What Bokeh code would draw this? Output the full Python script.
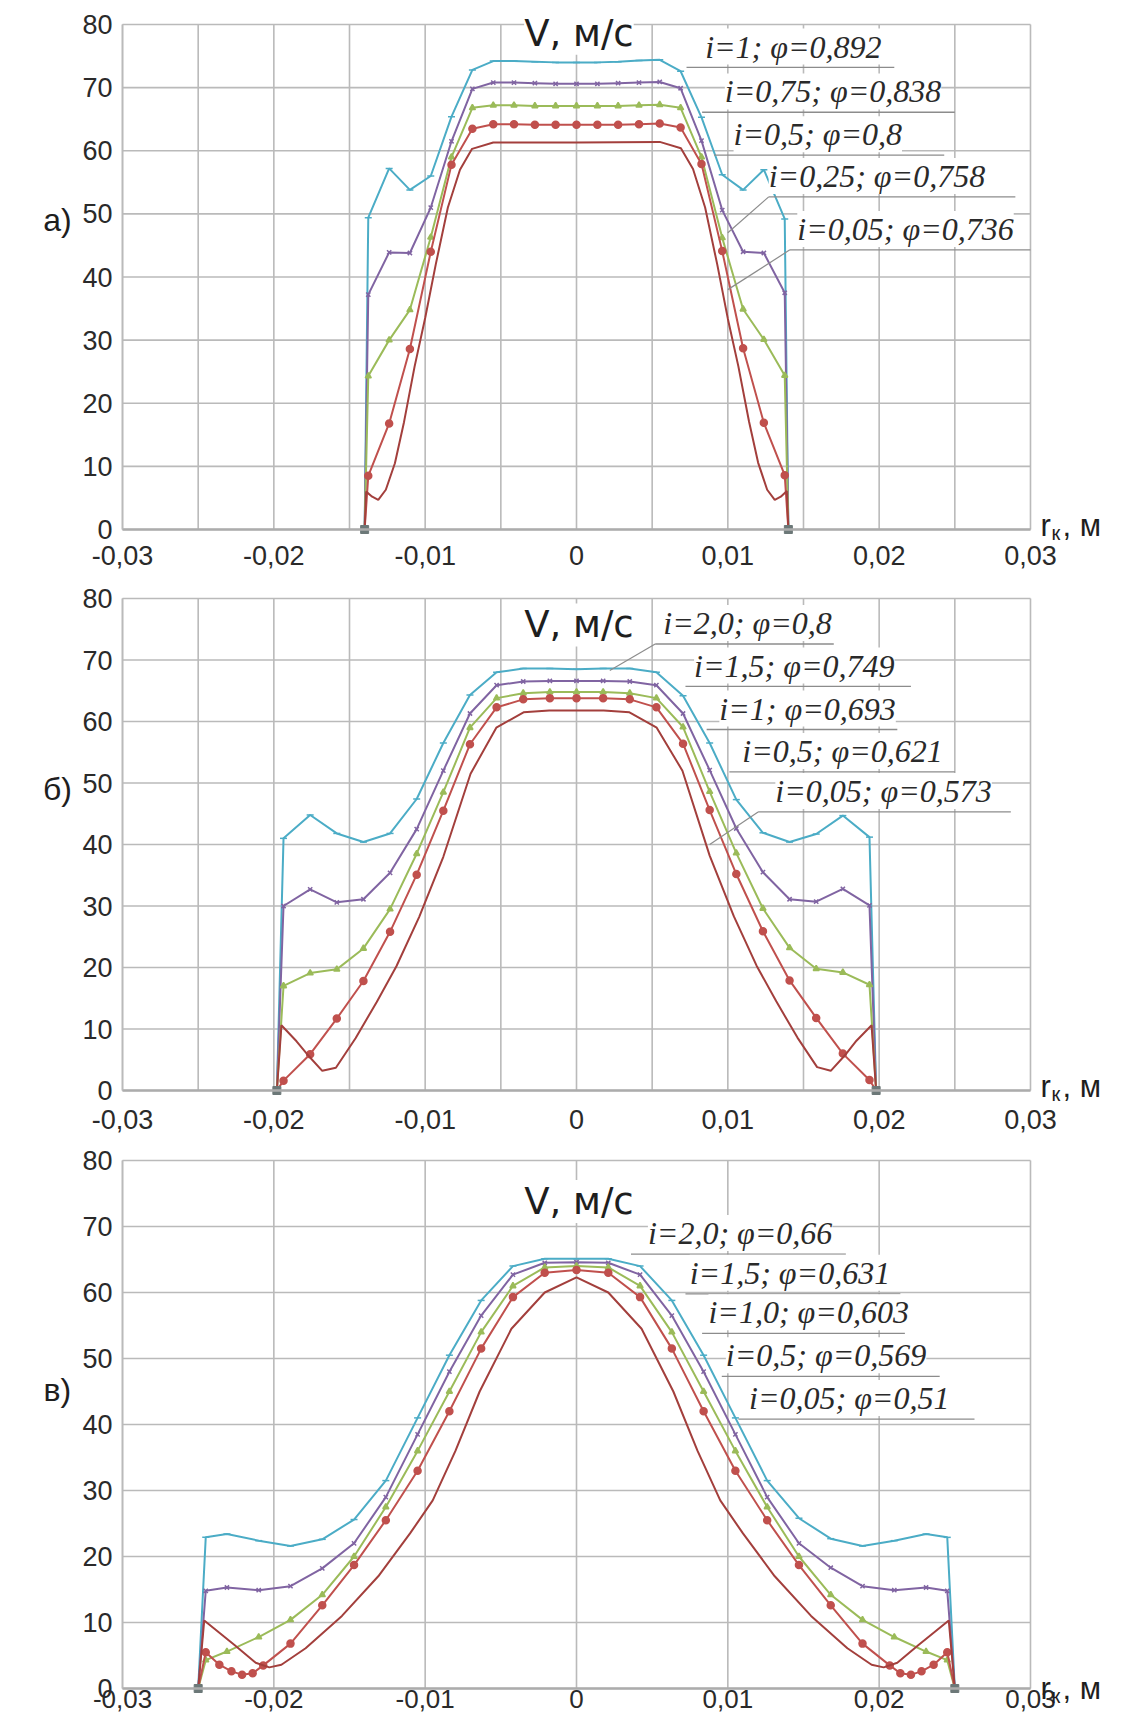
from bokeh.plotting import figure
from bokeh.models import Range1d, FixedTicker, Label
from bokeh.layouts import column
from bokeh.embed import file_html
from bokeh.resources import INLINE

# ---------------- shared axis data ----------------
X_TICKS = [-0.03, -0.02, -0.01, 0.0, 0.01, 0.02, 0.03]
X_TICK_LABELS = ["-0,03", "-0,02", "-0,01", "0", "0,01", "0,02", "0,03"]
Y_TICKS = [0, 10, 20, 30, 40, 50, 60, 70, 80]
GRID_X_FINE = [-0.03, -0.025, -0.02, -0.015, -0.01, -0.005, 0.0, 0.005, 0.01, 0.015, 0.02, 0.025, 0.03]
GRID_X_COARSE = [-0.03, -0.02, -0.01, 0.0, 0.01, 0.02, 0.03]
X_MIN, X_MAX, Y_MIN, Y_MAX = -0.03, 0.03, 0, 80
PANEL_LETTERS = ["а)", "б)", "в)"]
Y_TITLE = "V, м/с"
X_TITLE_MAIN = "r"
X_TITLE_SUB = "к"
X_TITLE_UNIT = ", м"

# ---------------- panel a ----------------
A_X = [-0.0140, -0.01376, -0.01238, -0.01101, -0.00963, -0.00826, -0.00688, -0.00550, -0.00413,
       -0.00275, -0.00138, 0.0, 0.00138, 0.00275, 0.00413, 0.00550, 0.00688, 0.00826, 0.00963,
       0.01101, 0.01238, 0.01376, 0.0140]
A_CYAN = [0.0, 49.4, 57.2, 53.8, 56.0, 65.4, 72.8, 74.2, 74.2, 74.1, 74.0, 74.0, 74.0, 74.1, 74.3,
          74.4, 72.6, 65.3, 56.2, 53.8, 57.0, 49.2, 0.0]
A_PURPLE = [0.0, 37.2, 43.9, 43.8, 51.0, 61.5, 69.8, 70.8, 70.8, 70.7, 70.6, 70.6, 70.6, 70.7, 70.8,
            70.9, 69.9, 61.6, 50.6, 44.0, 43.8, 37.5, 0.0]
A_GREEN = [0.0, 24.3, 30.0, 34.8, 46.3, 59.0, 66.8, 67.2, 67.2, 67.1, 67.1, 67.1, 67.1, 67.1, 67.2,
           67.3, 66.8, 59.0, 46.2, 34.9, 30.1, 24.4, 0.0]
A_RED = [0.0, 8.5, 16.8, 28.6, 44.0, 57.8, 63.5, 64.2, 64.2, 64.1, 64.1, 64.1, 64.1, 64.1, 64.2,
         64.3, 63.7, 57.9, 44.1, 28.7, 16.9, 8.6, 0.0]
A_DR_X = [-0.0140, -0.0139, -0.0135, -0.0131, -0.0126, -0.0120, -0.0114, -0.0107, -0.0100, -0.0093,
          -0.0085, -0.0077, -0.0069, -0.0055, 0.0, 0.0055, 0.0069, 0.0077, 0.0085, 0.0093, 0.0100,
          0.0107, 0.0114, 0.0120, 0.0126, 0.0131, 0.0135, 0.0139, 0.0140]
A_DR = [0.0, 6.0, 5.2, 4.7, 6.3, 10.5, 17.0, 25.8, 33.5, 42.0, 51.0, 57.0, 60.3, 61.3, 61.3, 61.4,
        60.4, 57.1, 51.0, 42.0, 33.4, 25.8, 17.1, 10.6, 6.3, 4.7, 5.2, 6.1, 0.0]
A_LABELS = ["i=1; φ=0,892", "i=0,75; φ=0,838", "i=0,5; φ=0,8", "i=0,25; φ=0,758", "i=0,05; φ=0,736"]

# ---------------- panel b ----------------
B_X = [-0.0198, -0.01936, -0.0176, -0.01584, -0.01408, -0.01232, -0.01056, -0.0088, -0.00704,
       -0.00528, -0.00352, -0.00176, 0.0, 0.00176, 0.00352, 0.00528, 0.00704, 0.0088, 0.01056,
       0.01232, 0.01408, 0.01584, 0.0176, 0.01936, 0.0198]
B_CYAN = [0.0, 41.0, 44.8, 41.8, 40.4, 41.8, 47.4, 56.5, 64.3, 68.0, 68.6, 68.6, 68.5, 68.6, 68.6,
          68.0, 64.2, 56.5, 47.3, 41.9, 40.4, 41.7, 44.7, 41.2, 0.0]
B_PURPLE = [0.0, 30.0, 32.7, 30.6, 31.1, 35.4, 42.5, 52.0, 61.3, 65.9, 66.5, 66.6, 66.6, 66.6, 66.5,
            65.9, 61.3, 52.1, 42.6, 35.5, 31.1, 30.7, 32.8, 30.1, 0.0]
B_GREEN = [0.0, 17.0, 19.1, 19.7, 23.1, 29.5, 38.5, 48.5, 59.0, 63.8, 64.6, 64.8, 64.8, 64.8, 64.6,
           63.8, 59.1, 48.6, 38.6, 29.6, 23.2, 19.8, 19.2, 17.2, 0.0]
B_RED = [0.0, 1.6, 5.9, 11.7, 17.8, 25.8, 35.1, 45.5, 56.3, 62.3, 63.6, 63.8, 63.8, 63.8, 63.6,
         62.3, 56.4, 45.6, 35.2, 25.9, 17.9, 11.8, 6.0, 1.7, 0.0]
B_DR_X = [-0.0198, -0.0195, -0.0185, -0.0178, -0.0168, -0.0159, -0.0146, -0.0132, -0.0119, -0.0104,
          -0.0088, -0.0070, -0.0053, -0.0035, -0.0018, 0.0, 0.0018, 0.0035, 0.0053, 0.0070, 0.0088,
          0.0104, 0.0119, 0.0132, 0.0146, 0.0159, 0.0168, 0.0178, 0.0185, 0.0195, 0.0198]
B_DR = [0.0, 10.6, 8.0, 5.9, 3.2, 3.7, 8.5, 14.4, 20.2, 28.2, 38.0, 51.5, 59.0, 61.5, 61.8, 61.8,
        61.8, 61.5, 59.0, 52.0, 38.2, 28.3, 20.3, 14.5, 8.6, 3.8, 3.2, 5.9, 8.1, 10.6, 0.0]
B_LABELS = ["i=2,0; φ=0,8", "i=1,5; φ=0,749", "i=1; φ=0,693", "i=0,5; φ=0,621", "i=0,05; φ=0,573"]

# ---------------- panel c ----------------
C_X = [-0.0250, -0.0245, -0.0231, -0.0210, -0.0189, -0.0168, -0.0147, -0.0126, -0.0105, -0.0084,
       -0.0063, -0.0042, -0.0021, 0.0, 0.0021, 0.0042, 0.0063, 0.0084, 0.0105, 0.0126, 0.0147,
       0.0168, 0.0189, 0.0210, 0.0231, 0.0245, 0.0250]
C_CYAN = [0.0, 22.9, 23.4, 22.4, 21.6, 22.6, 25.6, 31.5, 41.0, 50.5, 58.8, 64.0, 65.1, 65.1, 65.1,
          64.0, 58.8, 50.5, 41.0, 31.5, 25.8, 22.7, 21.6, 22.4, 23.4, 22.9, 0.0]
C_PURPLE = [0.0, 14.8, 15.3, 14.9, 15.5, 18.2, 22.0, 29.0, 38.5, 48.0, 56.5, 62.7, 64.5, 64.6, 64.5,
            62.7, 56.5, 48.0, 38.5, 29.0, 22.0, 18.3, 15.5, 14.9, 15.3, 14.8, 0.0]
C_GREEN = [0.0, 4.3, 5.6, 7.8, 10.4, 14.2, 20.0, 27.5, 36.0, 45.0, 54.0, 61.0, 63.8, 64.0, 63.8,
           61.0, 54.0, 45.0, 36.0, 27.5, 20.0, 14.2, 10.4, 7.8, 5.6, 4.3, 0.0]
C_RED_X = [-0.0250, -0.0245, -0.0236, -0.0228, -0.0221, -0.0214, -0.0207, -0.0189, -0.0168, -0.0147,
           -0.0126, -0.0105, -0.0084, -0.0063, -0.0042, -0.0021, 0.0, 0.0021, 0.0042, 0.0063, 0.0084,
           0.0105, 0.0126, 0.0147, 0.0168, 0.0189, 0.0207, 0.0214, 0.0221, 0.0228, 0.0236, 0.0245, 0.0250]
C_RED = [0.0, 5.5, 3.6, 2.6, 2.1, 2.3, 3.5, 6.8, 12.6, 18.7, 25.5, 33.0, 42.0, 51.5, 59.3, 63.0, 63.4,
         63.0, 59.3, 51.5, 42.0, 33.0, 25.5, 18.7, 12.6, 6.8, 3.5, 2.3, 2.1, 2.6, 3.6, 5.5, 0.0]
C_DR_X = [-0.0250, -0.0246, -0.0226, -0.0212, -0.0203, -0.0195, -0.0179, -0.0155, -0.0131, -0.0110,
          -0.0095, -0.0080, -0.0064, -0.0043, -0.0021, 0.0, 0.0021, 0.0043, 0.0064, 0.0080, 0.0095,
          0.0110, 0.0131, 0.0155, 0.0179, 0.0195, 0.0203, 0.0212, 0.0226, 0.0246, 0.0250]
C_DR = [0.0, 10.3, 6.6, 3.9, 3.2, 3.6, 6.1, 11.0, 17.0, 23.5, 28.5, 36.0, 45.0, 54.5, 60.0, 62.3,
        60.0, 54.5, 45.0, 36.0, 28.5, 23.5, 17.0, 11.0, 6.1, 3.6, 3.2, 3.9, 6.6, 10.3, 0.0]
C_LABELS = ["i=2,0; φ=0,66", "i=1,5; φ=0,631", "i=1,0; φ=0,603", "i=0,5; φ=0,569", "i=0,05; φ=0,51"]

# ---------------- styles / positions ----------------
CYAN, PURPLE, GREEN, RED, DARKRED = "#4bacc6", "#8064a2", "#9bbb59", "#c0504d", "#a33f3c"
GRID_COLOR = "#bababa"
TEXT_COLOR = "#2a2a2a"
FIG_W = 1126

# label placement (data coords): text x, text y, underline x0, x1, y
A_POS = dict(tx=[0.0085, 0.0098, 0.01038, 0.0127, 0.01459],
             ty=[76.5, 69.4, 62.6, 56.0, 47.6],
             lx0=[0.00727, 0.0083, 0.0091, 0.0127, 0.0141],
             lx1=[0.0210, 0.0250, 0.0243, 0.0290, 0.0300],
             ly=[73.2, 66.1, 59.3, 52.7, 44.3],
             leaders=[(0.0100, 47.0, 0.0127, 52.7), (0.0100, 38.0, 0.0141, 44.3)])
B_POS = dict(tx=[0.00574, 0.00777, 0.00944, 0.01096, 0.01314],
             ty=[76.0, 69.1, 62.1, 55.2, 48.7],
             lx0=[0.0052, 0.0072, 0.0086, 0.0101, 0.0120],
             lx1=[0.0170, 0.0221, 0.0212, 0.0250, 0.0287],
             ly=[72.6, 65.7, 58.7, 51.8, 45.3],
             leaders=[(0.0022, 68.3, 0.0052, 72.6), (0.0088, 40.0, 0.0120, 45.3)])
C_POS = dict(tx=[0.00472, 0.00748, 0.00872, 0.00987, 0.0114],
             ty=[69.0, 63.0, 57.0, 50.5, 44.0],
             lx0=[0.0036, 0.0072, 0.0083, 0.0096, 0.0107],
             lx1=[0.0178, 0.0214, 0.0217, 0.0240, 0.0263],
             ly=[65.8, 59.8, 53.8, 47.3, 40.8],
             leaders=[])

# figure geometry: the frame fills the whole figure; ranges chosen so that
# x = 0 sits at 576 px with 15133 px per unit
X_VIEW = (-576 / 15133, (FIG_W - 576) / 15133)


def make_panel(height, y_view, grid_x, series, labels, pos, letter, letter_y, title_y,
               standoff, xtitle_y, tick_font):
    p = figure(width=FIG_W, height=height, x_range=Range1d(*X_VIEW), y_range=Range1d(*y_view),
               output_backend="svg", toolbar_location=None,
               min_border_left=0, min_border_right=0, min_border_top=0, min_border_bottom=0)
    p.background_fill_color = "white"
    p.border_fill_color = "white"
    p.outline_line_color = None
    p.grid.visible = False

    # grid lines limited to the plotting rectangle, drawn from the tick arrays
    p.segment(x0=grid_x, y0=[Y_MIN] * len(grid_x), x1=grid_x, y1=[Y_MAX] * len(grid_x),
              line_color=GRID_COLOR, line_width=1.6, level="underlay")
    p.segment(x0=[X_MIN] * len(Y_TICKS), y0=Y_TICKS, x1=[X_MAX] * len(Y_TICKS), y1=Y_TICKS,
              line_color=GRID_COLOR, line_width=1.6, level="underlay")

    p.xaxis.ticker = FixedTicker(ticks=X_TICKS)
    p.xaxis.major_label_overrides = {t: s for t, s in zip(X_TICKS, X_TICK_LABELS)}
    p.xaxis.fixed_location = Y_MIN
    p.xaxis.bounds = (X_MIN, X_MAX)
    p.yaxis.ticker = FixedTicker(ticks=Y_TICKS)
    p.yaxis.fixed_location = X_MIN
    p.yaxis.bounds = (Y_MIN, Y_MAX)
    for ax in (p.xaxis[0], p.yaxis[0]):
        ax.major_tick_line_color = None
        ax.minor_tick_line_color = None
        ax.major_tick_out = 0
        ax.major_tick_in = 0
        ax.major_label_text_font = "Liberation Sans"
        ax.major_label_text_font_size = "27px"
        ax.major_label_text_color = TEXT_COLOR
    p.xaxis.major_label_text_font_size = tick_font
    p.xaxis.axis_line_color = "#acacac"
    p.xaxis.axis_line_width = 2.5
    p.xaxis.major_label_standoff = standoff
    p.yaxis.axis_line_color = GRID_COLOR
    p.yaxis.axis_line_width = 1.6
    p.yaxis.major_label_standoff = 10

    for xs, ys, color, marker, msize in series:
        p.line(xs, ys, line_color=color, line_width=2)
        if marker:
            p.scatter(xs[1:-1], ys[1:-1], marker=marker, size=msize, line_color=color,
                      fill_color=color, line_width=1.5)
    ex, ey = series[0][0], series[0][1]
    p.scatter([ex[0], ex[-1]], [ey[0], ey[-1]], marker="square", size=8,
              fill_color="#6c7878", line_color="#6c7878")

    # underlines and leader lines
    p.segment(x0=pos["lx0"], y0=pos["ly"], x1=pos["lx1"], y1=pos["ly"],
              line_color="#8c8c8c", line_width=1.3)
    if pos["leaders"]:
        p.segment(x0=[l[0] for l in pos["leaders"]], y0=[l[1] for l in pos["leaders"]],
                  x1=[l[2] for l in pos["leaders"]], y1=[l[3] for l in pos["leaders"]],
                  line_color="#8c8c8c", line_width=1.2)
    for text, tx, ty in zip(labels, pos["tx"], pos["ty"]):
        p.add_layout(Label(x=tx, y=ty, text=text, text_font="Liberation Serif",
                           text_font_style="italic", text_font_size="32px", text_color=TEXT_COLOR,
                           text_align="left", text_baseline="middle",
                           background_fill_color="white", background_fill_alpha=1.0))

    p.add_layout(Label(x=-0.00346, y=title_y, text=Y_TITLE, text_font="DejaVu Sans",
                       text_font_size="37px", text_color="#1e1e1e", text_align="left",
                       text_baseline="middle", background_fill_color="white",
                       background_fill_alpha=1.0))
    p.add_layout(Label(x=-0.0343, y=letter_y, text=letter, text_font="Liberation Sans",
                       text_font_size="32px", text_color="#1e1e1e", text_align="center",
                       text_baseline="middle"))
    p.add_layout(Label(x=0.03066, y=xtitle_y, text=X_TITLE_MAIN, text_font="Liberation Sans",
                       text_font_size="31px", text_color="#1e1e1e", text_align="left",
                       text_baseline="middle"))
    p.add_layout(Label(x=0.03066 + 11 / 15133, y=xtitle_y - 1.2, text=X_TITLE_SUB,
                       text_font="Liberation Sans", text_font_size="20px", text_color="#1e1e1e",
                       text_align="left", text_baseline="middle"))
    p.add_layout(Label(x=0.03066 + 22 / 15133, y=xtitle_y, text=X_TITLE_UNIT,
                       text_font="Liberation Sans", text_font_size="31px", text_color="#1e1e1e",
                       text_align="left", text_baseline="middle"))
    return p


# vertical views: (px above 80, px per unit, px below 0)
def y_view(px_top, px_per_unit, px_bottom):
    return (Y_MIN - px_bottom / px_per_unit, Y_MAX + px_top / px_per_unit)


pa = make_panel(580, y_view(24, 6.3125, 51), GRID_X_FINE,
                [(A_X, A_CYAN, CYAN, "dash", 7), (A_X, A_PURPLE, PURPLE, "x", 6),
                 (A_X, A_GREEN, GREEN, "triangle", 6), (A_X, A_RED, RED, "circle", 7),
                 (A_DR_X, A_DR, DARKRED, None, 0)],
                A_LABELS, A_POS, PANEL_LETTERS[0], 49.0, 78.6, 16, 0.6, "27px")
pb = make_panel(561, y_view(18, 6.15, 51), GRID_X_FINE,
                [(B_X, B_CYAN, CYAN, "dash", 7), (B_X, B_PURPLE, PURPLE, "x", 6),
                 (B_X, B_GREEN, GREEN, "triangle", 6), (B_X, B_RED, RED, "circle", 7),
                 (B_DR_X, B_DR, DARKRED, None, 0)],
                B_LABELS, B_POS, PANEL_LETTERS[1], 49.1, 75.7, 19, 0.6, "27px")
pc = make_panel(580, y_view(19, 6.6, 33), GRID_X_COARSE,
                [(C_X, C_CYAN, CYAN, "dash", 7), (C_X, C_PURPLE, PURPLE, "x", 6),
                 (C_X, C_GREEN, GREEN, "triangle", 6), (C_RED_X, C_RED, RED, "circle", 7),
                 (C_DR_X, C_DR, DARKRED, None, 0)],
                C_LABELS, C_POS, PANEL_LETTERS[2], 45.2, 73.8, 1, 0.0, "26px")

layout = column(pa, pb, pc)
open("out.html", "w").write(file_html(layout, INLINE))
